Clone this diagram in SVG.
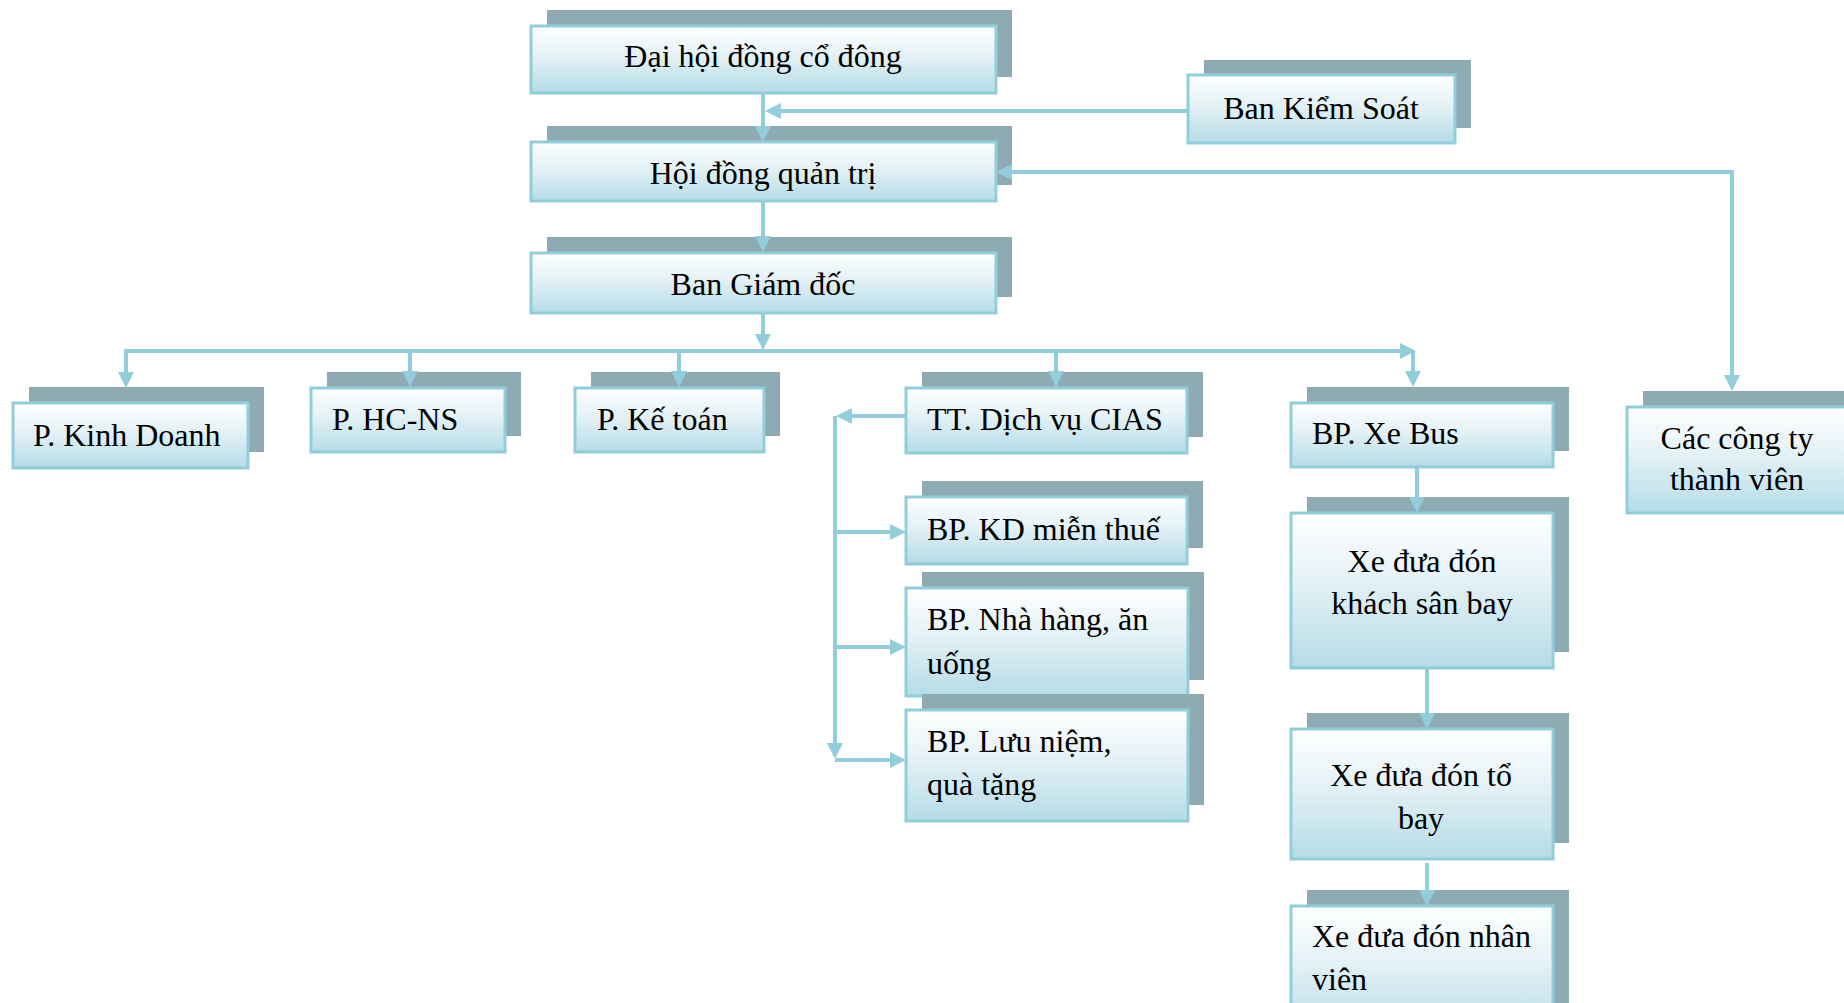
<svg xmlns="http://www.w3.org/2000/svg" width="1844" height="1003" viewBox="0 0 1844 1003">
<defs>
<linearGradient id="g" x1="0" y1="0" x2="0" y2="1">
<stop offset="0" stop-color="#ffffff"/>
<stop offset="0.45" stop-color="#e3f1f5"/>
<stop offset="1" stop-color="#b5dce7"/>
</linearGradient>
<marker id="ah" markerUnits="userSpaceOnUse" viewBox="0 0 16 16" markerWidth="16" markerHeight="16" refX="8" refY="8" orient="auto-start-reverse">
<path d="M0,0 L16,8 L0,16 Z" fill="#92cddc"/>
</marker>
<style>
.sh{fill:#8eaab2}
.box{fill:url(#g);stroke:#92cddc;stroke-width:3}
.t{font-family:"Liberation Serif","Times New Roman",serif;font-size:32px;fill:#000}
.c{text-anchor:middle}
.ln{fill:none;stroke:#92cddc;stroke-width:4;marker-end:url(#ah)}
.both{marker-start:url(#ah)}
</style>
</defs>
<rect width="1844" height="1003" fill="#ffffff"/>

<g id="n-dhdcd">
<rect class="sh" x="547" y="10" width="465" height="67"/>
<rect class="box" x="531" y="26" width="465" height="67"/>
<text class="t c" x="763" y="66.5">Đại hội đồng cổ đông</text>
</g>
<g id="n-bks">
<rect class="sh" x="1204" y="60" width="267" height="68"/>
<rect class="box" x="1188" y="75" width="267" height="68"/>
<text class="t c" x="1321" y="118.5">Ban Kiểm Soát</text>
</g>
<g id="n-hdqt">
<rect class="sh" x="547" y="126" width="465" height="59"/>
<rect class="box" x="531" y="142" width="465" height="59"/>
<text class="t c" x="763" y="183.5">Hội đồng quản trị</text>
</g>
<g id="n-bgd">
<rect class="sh" x="547" y="237" width="465" height="60"/>
<rect class="box" x="531" y="253" width="465" height="60"/>
<text class="t c" x="763" y="294.5">Ban Giám đốc</text>
</g>
<g id="n-kd">
<rect class="sh" x="29" y="387" width="235" height="65"/>
<rect class="box" x="13" y="403" width="235" height="65"/>
<text class="t" x="33" y="445.5">P. Kinh Doanh</text>
</g>
<g id="n-hcns">
<rect class="sh" x="327" y="372" width="194" height="64"/>
<rect class="box" x="311" y="388" width="194" height="64"/>
<text class="t" x="332" y="429.5">P. HC-NS</text>
</g>
<g id="n-ketoan">
<rect class="sh" x="591" y="372" width="189" height="64"/>
<rect class="box" x="575" y="388" width="189" height="64"/>
<text class="t" x="597" y="429.5">P. Kế toán</text>
</g>
<g id="n-tt">
<rect class="sh" x="922" y="372" width="281" height="65"/>
<rect class="box" x="906" y="388" width="281" height="65"/>
<text class="t" x="927" y="429.5">TT. Dịch vụ CIAS</text>
</g>
<g id="n-mienthue">
<rect class="sh" x="922" y="481" width="281" height="67"/>
<rect class="box" x="906" y="497" width="281" height="67"/>
<text class="t" x="927" y="539.5">BP. KD miễn thuế</text>
</g>
<g id="n-nhahang">
<rect class="sh" x="922" y="572" width="282" height="108"/>
<rect class="box" x="906" y="588" width="282" height="108"/>
<text class="t" x="927" y="629.5">BP. Nhà hàng, ăn</text>
<text class="t" x="927" y="673.5">uống</text>
</g>
<g id="n-luuniem">
<rect class="sh" x="922" y="694" width="282" height="111"/>
<rect class="box" x="906" y="710" width="282" height="111"/>
<text class="t" x="927" y="751.5">BP. Lưu niệm,</text>
<text class="t" x="927" y="794.5">quà tặng</text>
</g>
<g id="n-xebus">
<rect class="sh" x="1307" y="387" width="262" height="64"/>
<rect class="box" x="1291" y="403" width="262" height="64"/>
<text class="t" x="1312" y="443.5">BP. Xe Bus</text>
</g>
<g id="n-khach">
<rect class="sh" x="1307" y="497" width="262" height="155"/>
<rect class="box" x="1291" y="513" width="262" height="155"/>
<text class="t c" x="1422" y="571.5">Xe đưa đón</text>
<text class="t c" x="1422" y="613.5">khách sân bay</text>
</g>
<g id="n-tobay">
<rect class="sh" x="1307" y="713" width="262" height="130"/>
<rect class="box" x="1291" y="729" width="262" height="130"/>
<text class="t c" x="1421" y="785.5">Xe đưa đón tổ</text>
<text class="t c" x="1421" y="828.5">bay</text>
</g>
<g id="n-nhanvien">
<rect class="sh" x="1307" y="890" width="262" height="130"/>
<rect class="box" x="1291" y="906" width="262" height="130"/>
<text class="t" x="1312" y="946.5">Xe đưa đón nhân</text>
<text class="t" x="1312" y="989.5">viên</text>
</g>
<g id="n-congty">
<rect class="sh" x="1643" y="391" width="220" height="106"/>
<rect class="box" x="1627" y="407" width="220" height="106"/>
<text class="t c" x="1737" y="448.5">Các công ty</text>
<text class="t c" x="1737" y="489.5">thành viên</text>
</g>

<g id="connectors">
<path class="ln" d="M763,93 V134"/>
<path class="ln" d="M1188,111 H773"/>
<path class="ln" d="M763,201 V244"/>
<path class="ln both" d="M1004,172 H1732 V383"/>
<path class="ln" d="M763,313 V342"/>
<path class="ln both" d="M126,380 V351 H1408"/>
<path class="ln" d="M1413,351 V379"/>
<path class="ln" d="M410,351 V379"/>
<path class="ln" d="M679,351 V379"/>
<path class="ln" d="M1056,351 V379"/>
<path class="ln" d="M906,416 H844"/>
<path class="ln" d="M835,416 V751"/>
<path class="ln" d="M835,532 H898"/>
<path class="ln" d="M835,647 H898"/>
<path class="ln" d="M835,760 H898"/>
<path class="ln" d="M1417,467 V505"/>
<path class="ln" d="M1427,668 V721"/>
<path class="ln" d="M1427,863 V898"/>
</g>
</svg>
